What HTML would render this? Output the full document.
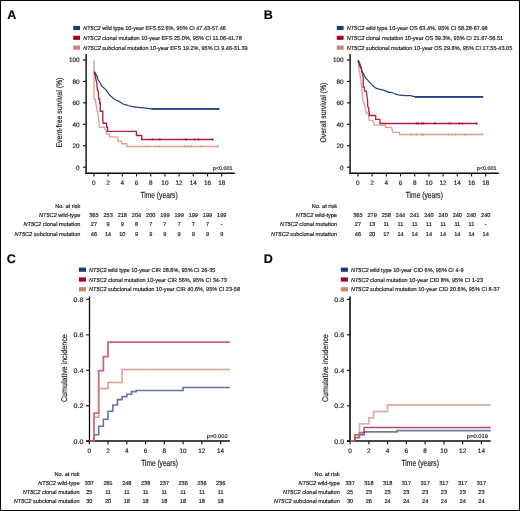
<!DOCTYPE html>
<html><head><meta charset="utf-8"><style>
html,body{margin:0;padding:0;background:#fff;width:520px;height:511px;overflow:hidden}
svg{display:block;will-change:transform}
text{font-family:"Liberation Sans", sans-serif;text-rendering:geometricPrecision;stroke:#1e1e1e;stroke-width:0.18px}
</style></head><body>
<svg width="520" height="511" viewBox="0 0 520 511" font-family='"Liberation Sans", sans-serif' fill="#1e1e1e">
<rect x="0" y="0" width="520" height="511" fill="#fff"/>
<text x="7.20" y="18.80" font-size="12.5" font-weight="bold" fill="#000" >A</text>
<rect x="73.20" y="25.90" width="6.8" height="4.1" fill="#1f3a7a"/>
<text x="83.20" y="29.90" font-size="5.6" textLength="142.60" lengthAdjust="spacingAndGlyphs"><tspan font-style="italic">NT5C2</tspan> wild type 10-year EFS 52.6%, 95% CI 47.43-57.46</text>
<rect x="73.20" y="35.75" width="6.8" height="4.1" fill="#a50028"/>
<text x="83.20" y="39.75" font-size="5.6" textLength="158.60" lengthAdjust="spacingAndGlyphs"><tspan font-style="italic">NT5C2</tspan> clonal mutation 10-year EFS 25.0%, 95% CI 11.06-41.78</text>
<rect x="73.20" y="45.60" width="6.8" height="4.1" fill="#cf8271"/>
<text x="83.20" y="49.60" font-size="5.6" textLength="164.50" lengthAdjust="spacingAndGlyphs"><tspan font-style="italic">NT5C2</tspan> subclonal mutation 10-year EFS 19.2%, 95% CI 9.46-31.39</text>
<line x1="86.10" y1="54.00" x2="86.10" y2="173.80" stroke="#0a0a0a" stroke-width="1.4"/>
<line x1="85.40" y1="173.30" x2="234.80" y2="173.30" stroke="#0a0a0a" stroke-width="1.4"/>
<line x1="83.00" y1="167.20" x2="86.10" y2="167.20" stroke="#0a0a0a" stroke-width="1.1"/>
<text x="79.60" y="169.50" font-size="6.4" text-anchor="end" >0</text>
<line x1="83.00" y1="145.74" x2="86.10" y2="145.74" stroke="#0a0a0a" stroke-width="1.1"/>
<text x="79.60" y="148.04" font-size="6.4" text-anchor="end" >20</text>
<line x1="83.00" y1="124.28" x2="86.10" y2="124.28" stroke="#0a0a0a" stroke-width="1.1"/>
<text x="79.60" y="126.58" font-size="6.4" text-anchor="end" >40</text>
<line x1="83.00" y1="102.82" x2="86.10" y2="102.82" stroke="#0a0a0a" stroke-width="1.1"/>
<text x="79.60" y="105.12" font-size="6.4" text-anchor="end" >60</text>
<line x1="83.00" y1="81.36" x2="86.10" y2="81.36" stroke="#0a0a0a" stroke-width="1.1"/>
<text x="79.60" y="83.66" font-size="6.4" text-anchor="end" >80</text>
<line x1="83.00" y1="59.90" x2="86.10" y2="59.90" stroke="#0a0a0a" stroke-width="1.1"/>
<text x="79.60" y="62.20" font-size="6.4" text-anchor="end" >100</text>
<line x1="93.90" y1="173.20" x2="93.90" y2="176.40" stroke="#0a0a0a" stroke-width="1.1"/>
<text x="93.90" y="185.30" font-size="6.4" text-anchor="middle" >0</text>
<line x1="108.10" y1="173.20" x2="108.10" y2="176.40" stroke="#0a0a0a" stroke-width="1.1"/>
<text x="108.10" y="185.30" font-size="6.4" text-anchor="middle" >2</text>
<line x1="122.30" y1="173.20" x2="122.30" y2="176.40" stroke="#0a0a0a" stroke-width="1.1"/>
<text x="122.30" y="185.30" font-size="6.4" text-anchor="middle" >4</text>
<line x1="136.50" y1="173.20" x2="136.50" y2="176.40" stroke="#0a0a0a" stroke-width="1.1"/>
<text x="136.50" y="185.30" font-size="6.4" text-anchor="middle" >6</text>
<line x1="150.70" y1="173.20" x2="150.70" y2="176.40" stroke="#0a0a0a" stroke-width="1.1"/>
<text x="150.70" y="185.30" font-size="6.4" text-anchor="middle" >8</text>
<line x1="164.90" y1="173.20" x2="164.90" y2="176.40" stroke="#0a0a0a" stroke-width="1.1"/>
<text x="164.90" y="185.30" font-size="6.4" text-anchor="middle" >10</text>
<line x1="179.10" y1="173.20" x2="179.10" y2="176.40" stroke="#0a0a0a" stroke-width="1.1"/>
<text x="179.10" y="185.30" font-size="6.4" text-anchor="middle" >12</text>
<line x1="193.30" y1="173.20" x2="193.30" y2="176.40" stroke="#0a0a0a" stroke-width="1.1"/>
<text x="193.30" y="185.30" font-size="6.4" text-anchor="middle" >14</text>
<line x1="207.50" y1="173.20" x2="207.50" y2="176.40" stroke="#0a0a0a" stroke-width="1.1"/>
<text x="207.50" y="185.30" font-size="6.4" text-anchor="middle" >16</text>
<line x1="221.70" y1="173.20" x2="221.70" y2="176.40" stroke="#0a0a0a" stroke-width="1.1"/>
<text x="221.70" y="185.30" font-size="6.4" text-anchor="middle" >18</text>
<text x="140.40" y="197.70" font-size="8.8" textLength="37.30" lengthAdjust="spacingAndGlyphs" >Time (years)</text>
<text transform="translate(61.60,112.6) rotate(-90)" x="0" y="0" font-size="8.2" text-anchor="middle" textLength="70" lengthAdjust="spacingAndGlyphs">Event-free survival (%)</text>
<text x="212.90" y="170.20" font-size="5.4" textLength="19.60" lengthAdjust="spacingAndGlyphs" >p&lt;0.001</text>
<polyline points="94.00,60.00 94.00,99.20 95.30,99.40 96.20,105.20 97.30,111.50 98.30,117.10 99.00,122.80 99.20,127.30 104.50,127.30 105.20,129.40 106.40,131.20 106.40,134.10 109.60,134.10 109.60,136.80 117.60,136.80 118.20,141.30 121.50,141.30 121.50,143.70 126.80,143.70 126.80,146.50 218.50,146.50" fill="none" stroke="#cf8271" stroke-width="1.35" stroke-opacity="0.75" stroke-linejoin="miter" />
<polyline points="94.30,71.60 95.90,74.40 97.10,76.30 98.00,79.80 99.80,82.30 101.20,84.70 101.80,86.20 103.90,87.90 105.60,89.40 107.70,92.00 109.50,95.00 111.50,96.70 113.90,98.80 115.60,100.00 118.00,100.80 120.30,102.30 122.70,103.80 124.10,104.40 126.20,104.80 128.00,105.50 132.30,106.70 138.10,107.30 143.80,107.80 151.50,108.90 219.20,108.90" fill="none" stroke="#24407f" stroke-width="1.25" stroke-linejoin="miter" />
<line x1="151.50" y1="108.90" x2="219.40" y2="108.90" stroke="#24407f" stroke-width="1.9"/>
<polyline points="94.20,71.80 95.30,75.60 95.90,79.70 96.80,82.60 97.10,87.30 97.60,90.90 98.50,91.50 98.50,98.80 99.70,98.80 99.70,103.50 100.30,103.50 100.30,111.20 102.80,111.20 102.80,119.40 103.20,123.20 106.60,123.20 106.60,127.00 107.50,127.00 107.50,131.30 136.40,131.30 136.40,135.50 141.70,135.40 141.70,139.50 213.30,139.50" fill="none" stroke="#a50028" stroke-width="1.35" stroke-opacity="0.88" stroke-linejoin="miter" />
<line x1="152.40" y1="138.50" x2="152.40" y2="140.30" stroke="#a8103a" stroke-width="1.6"/>
<line x1="159.80" y1="138.50" x2="159.80" y2="140.30" stroke="#a8103a" stroke-width="1.6"/>
<line x1="185.70" y1="138.50" x2="185.70" y2="140.30" stroke="#a8103a" stroke-width="1.6"/>
<line x1="194.50" y1="138.50" x2="194.50" y2="140.30" stroke="#a8103a" stroke-width="1.6"/>
<line x1="198.40" y1="138.50" x2="198.40" y2="140.30" stroke="#a8103a" stroke-width="1.6"/>
<line x1="212.60" y1="138.50" x2="212.60" y2="140.30" stroke="#a8103a" stroke-width="1.6"/>
<line x1="147.10" y1="145.45" x2="147.10" y2="147.25" stroke="#d49486" stroke-width="1.6"/>
<line x1="159.40" y1="145.45" x2="159.40" y2="147.25" stroke="#d49486" stroke-width="1.6"/>
<line x1="184.40" y1="145.45" x2="184.40" y2="147.25" stroke="#d49486" stroke-width="1.6"/>
<line x1="187.70" y1="145.45" x2="187.70" y2="147.25" stroke="#d49486" stroke-width="1.6"/>
<line x1="191.30" y1="145.45" x2="191.30" y2="147.25" stroke="#d49486" stroke-width="1.6"/>
<line x1="201.40" y1="145.45" x2="201.40" y2="147.25" stroke="#d49486" stroke-width="1.6"/>
<line x1="218.10" y1="145.45" x2="218.10" y2="147.25" stroke="#d49486" stroke-width="1.6"/>
<text x="80.40" y="207.70" font-size="5.6" text-anchor="end" >No. at risk</text>
<text x="80.40" y="216.80" font-size="5.6" text-anchor="end"><tspan font-style="italic">NT5C2</tspan> wild-type</text>
<text x="93.90" y="216.80" font-size="5.6" text-anchor="middle" >365</text>
<text x="108.10" y="216.80" font-size="5.6" text-anchor="middle" >253</text>
<text x="122.30" y="216.80" font-size="5.6" text-anchor="middle" >218</text>
<text x="136.50" y="216.80" font-size="5.6" text-anchor="middle" >204</text>
<text x="150.70" y="216.80" font-size="5.6" text-anchor="middle" >200</text>
<text x="164.90" y="216.80" font-size="5.6" text-anchor="middle" >199</text>
<text x="179.10" y="216.80" font-size="5.6" text-anchor="middle" >199</text>
<text x="193.30" y="216.80" font-size="5.6" text-anchor="middle" >199</text>
<text x="207.50" y="216.80" font-size="5.6" text-anchor="middle" >199</text>
<text x="221.70" y="216.80" font-size="5.6" text-anchor="middle" >199</text>
<text x="80.40" y="226.20" font-size="5.6" text-anchor="end"><tspan font-style="italic">NT5C2</tspan> clonal mutation</text>
<text x="93.90" y="226.20" font-size="5.6" text-anchor="middle" >27</text>
<text x="108.10" y="226.20" font-size="5.6" text-anchor="middle" >9</text>
<text x="122.30" y="226.20" font-size="5.6" text-anchor="middle" >9</text>
<text x="136.50" y="226.20" font-size="5.6" text-anchor="middle" >8</text>
<text x="150.70" y="226.20" font-size="5.6" text-anchor="middle" >7</text>
<text x="164.90" y="226.20" font-size="5.6" text-anchor="middle" >7</text>
<text x="179.10" y="226.20" font-size="5.6" text-anchor="middle" >7</text>
<text x="193.30" y="226.20" font-size="5.6" text-anchor="middle" >7</text>
<text x="207.50" y="226.20" font-size="5.6" text-anchor="middle" >7</text>
<text x="221.70" y="226.20" font-size="5.6" text-anchor="middle" >-</text>
<text x="80.40" y="235.70" font-size="5.6" text-anchor="end"><tspan font-style="italic">NT5C2</tspan> subclonal mutation</text>
<text x="93.90" y="235.70" font-size="5.6" text-anchor="middle" >46</text>
<text x="108.10" y="235.70" font-size="5.6" text-anchor="middle" >14</text>
<text x="122.30" y="235.70" font-size="5.6" text-anchor="middle" >10</text>
<text x="136.50" y="235.70" font-size="5.6" text-anchor="middle" >9</text>
<text x="150.70" y="235.70" font-size="5.6" text-anchor="middle" >9</text>
<text x="164.90" y="235.70" font-size="5.6" text-anchor="middle" >9</text>
<text x="179.10" y="235.70" font-size="5.6" text-anchor="middle" >9</text>
<text x="193.30" y="235.70" font-size="5.6" text-anchor="middle" >9</text>
<text x="207.50" y="235.70" font-size="5.6" text-anchor="middle" >9</text>
<text x="221.70" y="235.70" font-size="5.6" text-anchor="middle" >9</text>
<text x="263.80" y="18.80" font-size="12.5" font-weight="bold" fill="#000" >B</text>
<rect x="336.80" y="25.90" width="6.8" height="4.1" fill="#1f3a7a"/>
<text x="346.67" y="29.90" font-size="5.6" textLength="141.03" lengthAdjust="spacingAndGlyphs"><tspan font-style="italic">NT5C2</tspan> wild type 10-year OS 63.4%, 95% CI 58.28-67.98</text>
<rect x="336.80" y="35.75" width="6.8" height="4.1" fill="#a50028"/>
<text x="346.67" y="39.75" font-size="5.6" textLength="156.43" lengthAdjust="spacingAndGlyphs"><tspan font-style="italic">NT5C2</tspan> clonal mutation 10-year OS 39.3%, 95% CI 21.67-56.51</text>
<rect x="336.80" y="45.60" width="6.8" height="4.1" fill="#cf8271"/>
<text x="346.67" y="49.60" font-size="5.6" textLength="165.63" lengthAdjust="spacingAndGlyphs"><tspan font-style="italic">NT5C2</tspan> subclonal mutation 10-year OS 29.8%, 95% CI 17.55-43.05</text>
<line x1="350.10" y1="54.00" x2="350.10" y2="173.80" stroke="#0a0a0a" stroke-width="1.4"/>
<line x1="349.40" y1="173.30" x2="498.80" y2="173.30" stroke="#0a0a0a" stroke-width="1.4"/>
<line x1="347.00" y1="167.20" x2="350.10" y2="167.20" stroke="#0a0a0a" stroke-width="1.1"/>
<text x="343.60" y="169.50" font-size="6.4" text-anchor="end" >0</text>
<line x1="347.00" y1="145.74" x2="350.10" y2="145.74" stroke="#0a0a0a" stroke-width="1.1"/>
<text x="343.60" y="148.04" font-size="6.4" text-anchor="end" >20</text>
<line x1="347.00" y1="124.28" x2="350.10" y2="124.28" stroke="#0a0a0a" stroke-width="1.1"/>
<text x="343.60" y="126.58" font-size="6.4" text-anchor="end" >40</text>
<line x1="347.00" y1="102.82" x2="350.10" y2="102.82" stroke="#0a0a0a" stroke-width="1.1"/>
<text x="343.60" y="105.12" font-size="6.4" text-anchor="end" >60</text>
<line x1="347.00" y1="81.36" x2="350.10" y2="81.36" stroke="#0a0a0a" stroke-width="1.1"/>
<text x="343.60" y="83.66" font-size="6.4" text-anchor="end" >80</text>
<line x1="347.00" y1="59.90" x2="350.10" y2="59.90" stroke="#0a0a0a" stroke-width="1.1"/>
<text x="343.60" y="62.20" font-size="6.4" text-anchor="end" >100</text>
<line x1="357.90" y1="173.20" x2="357.90" y2="176.40" stroke="#0a0a0a" stroke-width="1.1"/>
<text x="357.90" y="185.30" font-size="6.4" text-anchor="middle" >0</text>
<line x1="372.10" y1="173.20" x2="372.10" y2="176.40" stroke="#0a0a0a" stroke-width="1.1"/>
<text x="372.10" y="185.30" font-size="6.4" text-anchor="middle" >2</text>
<line x1="386.30" y1="173.20" x2="386.30" y2="176.40" stroke="#0a0a0a" stroke-width="1.1"/>
<text x="386.30" y="185.30" font-size="6.4" text-anchor="middle" >4</text>
<line x1="400.50" y1="173.20" x2="400.50" y2="176.40" stroke="#0a0a0a" stroke-width="1.1"/>
<text x="400.50" y="185.30" font-size="6.4" text-anchor="middle" >6</text>
<line x1="414.70" y1="173.20" x2="414.70" y2="176.40" stroke="#0a0a0a" stroke-width="1.1"/>
<text x="414.70" y="185.30" font-size="6.4" text-anchor="middle" >8</text>
<line x1="428.90" y1="173.20" x2="428.90" y2="176.40" stroke="#0a0a0a" stroke-width="1.1"/>
<text x="428.90" y="185.30" font-size="6.4" text-anchor="middle" >10</text>
<line x1="443.10" y1="173.20" x2="443.10" y2="176.40" stroke="#0a0a0a" stroke-width="1.1"/>
<text x="443.10" y="185.30" font-size="6.4" text-anchor="middle" >12</text>
<line x1="457.30" y1="173.20" x2="457.30" y2="176.40" stroke="#0a0a0a" stroke-width="1.1"/>
<text x="457.30" y="185.30" font-size="6.4" text-anchor="middle" >14</text>
<line x1="471.50" y1="173.20" x2="471.50" y2="176.40" stroke="#0a0a0a" stroke-width="1.1"/>
<text x="471.50" y="185.30" font-size="6.4" text-anchor="middle" >16</text>
<line x1="485.70" y1="173.20" x2="485.70" y2="176.40" stroke="#0a0a0a" stroke-width="1.1"/>
<text x="485.70" y="185.30" font-size="6.4" text-anchor="middle" >18</text>
<text x="405.80" y="197.70" font-size="8.8" textLength="37.10" lengthAdjust="spacingAndGlyphs" >Time (years)</text>
<text transform="translate(325.60,112.6) rotate(-90)" x="0" y="0" font-size="8.2" text-anchor="middle" textLength="60" lengthAdjust="spacingAndGlyphs">Overall survival (%)</text>
<text x="476.90" y="170.20" font-size="5.4" textLength="19.60" lengthAdjust="spacingAndGlyphs" >p&lt;0.001</text>
<polyline points="358.20,60.30 358.80,68.50 360.00,74.40 360.90,79.70 361.60,87.10 362.20,92.90 362.80,100.00 364.20,104.70 365.70,109.40 366.10,113.20 368.50,113.20 368.80,117.90 369.40,120.40 372.60,120.40 374.40,125.10 385.50,125.10 385.50,127.30 391.50,127.30 393.10,132.30 399.60,132.30 399.60,134.50 482.70,134.50" fill="none" stroke="#cf8271" stroke-width="1.35" stroke-opacity="0.75" stroke-linejoin="miter" />
<polyline points="358.20,60.30 359.40,62.60 360.60,66.20 362.00,70.90 363.80,74.40 365.60,77.90 367.90,80.30 370.00,82.90 372.90,85.80 376.40,88.40 379.30,89.20 383.30,90.10 386.20,91.10 388.50,92.30 390.80,92.30 393.10,93.00 395.70,94.20 398.30,94.90 405.00,95.60 410.80,95.60 415.10,96.90 483.10,96.90" fill="none" stroke="#24407f" stroke-width="1.2" stroke-linejoin="miter" />
<line x1="415.10" y1="96.90" x2="483.20" y2="96.90" stroke="#24407f" stroke-width="1.9"/>
<polyline points="358.20,60.30 359.10,63.80 360.00,66.80 361.20,67.60 361.50,70.30 362.40,73.80 363.20,77.40 363.30,87.10 364.50,87.10 364.50,91.20 366.30,91.20 366.90,95.90 367.50,100.00 367.80,107.00 368.80,107.90 368.80,111.50 369.40,112.00 369.40,115.50 375.70,115.50 375.70,119.30 379.90,119.30 379.90,123.50 477.40,123.50" fill="none" stroke="#a50028" stroke-width="1.3" stroke-opacity="0.88" stroke-linejoin="miter" />
<line x1="416.50" y1="122.55" x2="416.50" y2="124.35" stroke="#a8103a" stroke-width="1.6"/>
<line x1="418.20" y1="122.55" x2="418.20" y2="124.35" stroke="#a8103a" stroke-width="1.6"/>
<line x1="421.50" y1="122.55" x2="421.50" y2="124.35" stroke="#a8103a" stroke-width="1.6"/>
<line x1="423.60" y1="122.55" x2="423.60" y2="124.35" stroke="#a8103a" stroke-width="1.6"/>
<line x1="435.00" y1="122.55" x2="435.00" y2="124.35" stroke="#a8103a" stroke-width="1.6"/>
<line x1="449.60" y1="122.55" x2="449.60" y2="124.35" stroke="#a8103a" stroke-width="1.6"/>
<line x1="459.20" y1="122.55" x2="459.20" y2="124.35" stroke="#a8103a" stroke-width="1.6"/>
<line x1="462.30" y1="122.55" x2="462.30" y2="124.35" stroke="#a8103a" stroke-width="1.6"/>
<line x1="476.50" y1="122.55" x2="476.50" y2="124.35" stroke="#a8103a" stroke-width="1.6"/>
<line x1="411.20" y1="133.65" x2="411.20" y2="135.45" stroke="#d49486" stroke-width="1.6"/>
<line x1="416.40" y1="133.65" x2="416.40" y2="135.45" stroke="#d49486" stroke-width="1.6"/>
<line x1="421.80" y1="133.65" x2="421.80" y2="135.45" stroke="#d49486" stroke-width="1.6"/>
<line x1="423.30" y1="133.65" x2="423.30" y2="135.45" stroke="#d49486" stroke-width="1.6"/>
<line x1="448.50" y1="133.65" x2="448.50" y2="135.45" stroke="#d49486" stroke-width="1.6"/>
<line x1="451.70" y1="133.65" x2="451.70" y2="135.45" stroke="#d49486" stroke-width="1.6"/>
<line x1="455.40" y1="133.65" x2="455.40" y2="135.45" stroke="#d49486" stroke-width="1.6"/>
<line x1="465.50" y1="133.65" x2="465.50" y2="135.45" stroke="#d49486" stroke-width="1.6"/>
<line x1="482.30" y1="133.65" x2="482.30" y2="135.45" stroke="#d49486" stroke-width="1.6"/>
<text x="337.00" y="207.70" font-size="5.6" text-anchor="end" >No. at risk</text>
<text x="337.00" y="216.80" font-size="5.6" text-anchor="end"><tspan font-style="italic">NT5C2</tspan> wild-type</text>
<text x="357.90" y="216.80" font-size="5.6" text-anchor="middle" >365</text>
<text x="372.10" y="216.80" font-size="5.6" text-anchor="middle" >279</text>
<text x="386.30" y="216.80" font-size="5.6" text-anchor="middle" >258</text>
<text x="400.50" y="216.80" font-size="5.6" text-anchor="middle" >244</text>
<text x="414.70" y="216.80" font-size="5.6" text-anchor="middle" >241</text>
<text x="428.90" y="216.80" font-size="5.6" text-anchor="middle" >240</text>
<text x="443.10" y="216.80" font-size="5.6" text-anchor="middle" >240</text>
<text x="457.30" y="216.80" font-size="5.6" text-anchor="middle" >240</text>
<text x="471.50" y="216.80" font-size="5.6" text-anchor="middle" >240</text>
<text x="485.70" y="216.80" font-size="5.6" text-anchor="middle" >240</text>
<text x="337.00" y="226.20" font-size="5.6" text-anchor="end"><tspan font-style="italic">NT5C2</tspan> clonal mutation</text>
<text x="357.90" y="226.20" font-size="5.6" text-anchor="middle" >27</text>
<text x="372.10" y="226.20" font-size="5.6" text-anchor="middle" >13</text>
<text x="386.30" y="226.20" font-size="5.6" text-anchor="middle" >11</text>
<text x="400.50" y="226.20" font-size="5.6" text-anchor="middle" >11</text>
<text x="414.70" y="226.20" font-size="5.6" text-anchor="middle" >11</text>
<text x="428.90" y="226.20" font-size="5.6" text-anchor="middle" >11</text>
<text x="443.10" y="226.20" font-size="5.6" text-anchor="middle" >11</text>
<text x="457.30" y="226.20" font-size="5.6" text-anchor="middle" >11</text>
<text x="471.50" y="226.20" font-size="5.6" text-anchor="middle" >11</text>
<text x="485.70" y="226.20" font-size="5.6" text-anchor="middle" >-</text>
<text x="337.00" y="235.70" font-size="5.6" text-anchor="end"><tspan font-style="italic">NT5C2</tspan> subclonal mutation</text>
<text x="357.90" y="235.70" font-size="5.6" text-anchor="middle" >46</text>
<text x="372.10" y="235.70" font-size="5.6" text-anchor="middle" >20</text>
<text x="386.30" y="235.70" font-size="5.6" text-anchor="middle" >17</text>
<text x="400.50" y="235.70" font-size="5.6" text-anchor="middle" >14</text>
<text x="414.70" y="235.70" font-size="5.6" text-anchor="middle" >14</text>
<text x="428.90" y="235.70" font-size="5.6" text-anchor="middle" >14</text>
<text x="443.10" y="235.70" font-size="5.6" text-anchor="middle" >14</text>
<text x="457.30" y="235.70" font-size="5.6" text-anchor="middle" >14</text>
<text x="471.50" y="235.70" font-size="5.6" text-anchor="middle" >14</text>
<text x="485.70" y="235.70" font-size="5.6" text-anchor="middle" >14</text>
<text x="6.80" y="263.20" font-size="12.5" font-weight="bold" fill="#000" >C</text>
<rect x="78.90" y="267.60" width="7.1" height="4.2" fill="#1f3a7a"/>
<text x="89.00" y="271.70" font-size="5.6" textLength="126.40" lengthAdjust="spacingAndGlyphs"><tspan font-style="italic">NT5C2</tspan> wild type 10-year CIR 28.8%, 95% CI 26-35</text>
<rect x="78.90" y="277.40" width="7.1" height="4.2" fill="#a50028"/>
<text x="89.00" y="281.50" font-size="5.6" textLength="137.90" lengthAdjust="spacingAndGlyphs"><tspan font-style="italic">NT5C2</tspan> clonal mutation 10-year CIR 56%, 95% CI 34-73</text>
<rect x="78.90" y="287.20" width="7.1" height="4.2" fill="#cf8271"/>
<text x="89.00" y="291.30" font-size="5.6" textLength="151.00" lengthAdjust="spacingAndGlyphs"><tspan font-style="italic">NT5C2</tspan> subclonal mutation 10-year CIR 40.6%, 95% CI 23-58</text>
<line x1="89.50" y1="296.50" x2="89.50" y2="441.90" stroke="#0a0a0a" stroke-width="1.3"/>
<line x1="86.20" y1="441.00" x2="229.90" y2="441.00" stroke="#0a0a0a" stroke-width="1.5"/>
<line x1="86.20" y1="441.30" x2="89.30" y2="441.30" stroke="#0a0a0a" stroke-width="1.1"/>
<text x="83.40" y="443.65" font-size="6.6" text-anchor="end" textLength="9.90" lengthAdjust="spacingAndGlyphs" >0.0</text>
<line x1="86.20" y1="405.82" x2="89.30" y2="405.82" stroke="#0a0a0a" stroke-width="1.1"/>
<text x="83.40" y="408.17" font-size="6.6" text-anchor="end" textLength="9.90" lengthAdjust="spacingAndGlyphs" >0.2</text>
<line x1="86.20" y1="370.34" x2="89.30" y2="370.34" stroke="#0a0a0a" stroke-width="1.1"/>
<text x="83.40" y="372.69" font-size="6.6" text-anchor="end" textLength="9.90" lengthAdjust="spacingAndGlyphs" >0.4</text>
<line x1="86.20" y1="334.86" x2="89.30" y2="334.86" stroke="#0a0a0a" stroke-width="1.1"/>
<text x="83.40" y="337.21" font-size="6.6" text-anchor="end" textLength="9.90" lengthAdjust="spacingAndGlyphs" >0.6</text>
<line x1="86.20" y1="299.38" x2="89.30" y2="299.38" stroke="#0a0a0a" stroke-width="1.1"/>
<text x="83.40" y="301.73" font-size="6.6" text-anchor="end" textLength="9.90" lengthAdjust="spacingAndGlyphs" >0.8</text>
<line x1="89.30" y1="441.20" x2="89.30" y2="444.20" stroke="#0a0a0a" stroke-width="1.1"/>
<text x="89.30" y="452.90" font-size="6.4" text-anchor="middle" >0</text>
<line x1="108.06" y1="441.20" x2="108.06" y2="444.20" stroke="#0a0a0a" stroke-width="1.1"/>
<text x="108.06" y="452.90" font-size="6.4" text-anchor="middle" >2</text>
<line x1="126.82" y1="441.20" x2="126.82" y2="444.20" stroke="#0a0a0a" stroke-width="1.1"/>
<text x="126.82" y="452.90" font-size="6.4" text-anchor="middle" >4</text>
<line x1="145.58" y1="441.20" x2="145.58" y2="444.20" stroke="#0a0a0a" stroke-width="1.1"/>
<text x="145.58" y="452.90" font-size="6.4" text-anchor="middle" >6</text>
<line x1="164.34" y1="441.20" x2="164.34" y2="444.20" stroke="#0a0a0a" stroke-width="1.1"/>
<text x="164.34" y="452.90" font-size="6.4" text-anchor="middle" >8</text>
<line x1="183.10" y1="441.20" x2="183.10" y2="444.20" stroke="#0a0a0a" stroke-width="1.1"/>
<text x="183.10" y="452.90" font-size="6.4" text-anchor="middle" >10</text>
<line x1="201.86" y1="441.20" x2="201.86" y2="444.20" stroke="#0a0a0a" stroke-width="1.1"/>
<text x="201.86" y="452.90" font-size="6.4" text-anchor="middle" >12</text>
<line x1="220.62" y1="441.20" x2="220.62" y2="444.20" stroke="#0a0a0a" stroke-width="1.1"/>
<text x="220.62" y="452.90" font-size="6.4" text-anchor="middle" >14</text>
<text x="141.20" y="465.60" font-size="8.8" textLength="36.70" lengthAdjust="spacingAndGlyphs" >Time (years)</text>
<text transform="translate(67.20,368.2) rotate(-90)" x="0" y="0" font-size="8.2" text-anchor="middle" textLength="67.8" lengthAdjust="spacingAndGlyphs">Cumulative incidence</text>
<text x="206.80" y="437.80" font-size="5.4" textLength="20.90" lengthAdjust="spacingAndGlyphs" >p=0.002</text>
<polyline points="89.30,441.00 93.99,441.00 93.99,434.73 98.68,434.73 98.68,426.22 103.37,426.22 103.37,419.30 108.06,419.30 108.06,411.31 112.75,411.31 112.75,404.93 117.44,404.93 117.44,399.61 122.13,399.61 122.13,396.59 126.82,396.59 126.82,394.28 131.51,394.28 131.51,391.62 136.20,391.62 136.20,390.51 183.10,390.51 183.10,387.51 230.00,387.51" fill="none" stroke="#1f3a7a" stroke-width="1.6" stroke-opacity="0.7" stroke-linejoin="miter" />
<polyline points="89.30,441.00 93.99,441.00 93.99,413.09 98.68,413.09 98.68,370.69 103.37,370.69 103.37,356.50 108.06,356.50 108.06,342.00 230.00,342.00" fill="none" stroke="#a50028" stroke-width="1.75" stroke-opacity="0.6" stroke-linejoin="miter" />
<polyline points="89.30,441.00 93.99,441.00 93.99,417.26 98.68,417.26 98.68,388.43 108.06,388.43 108.06,382.49 122.13,382.49 122.13,369.50 230.00,369.50" fill="none" stroke="#cf8271" stroke-width="1.6" stroke-opacity="0.77" stroke-linejoin="miter" />
<text x="79.60" y="476.00" font-size="5.6" text-anchor="end" >No. at risk</text>
<text x="79.60" y="484.90" font-size="5.6" text-anchor="end"><tspan font-style="italic">NT5C2</tspan> wild-type</text>
<text x="89.30" y="484.90" font-size="5.6" text-anchor="middle" >337</text>
<text x="108.06" y="484.90" font-size="5.6" text-anchor="middle" >281</text>
<text x="126.82" y="484.90" font-size="5.6" text-anchor="middle" >248</text>
<text x="145.58" y="484.90" font-size="5.6" text-anchor="middle" >238</text>
<text x="164.34" y="484.90" font-size="5.6" text-anchor="middle" >237</text>
<text x="183.10" y="484.90" font-size="5.6" text-anchor="middle" >236</text>
<text x="201.86" y="484.90" font-size="5.6" text-anchor="middle" >236</text>
<text x="220.62" y="484.90" font-size="5.6" text-anchor="middle" >236</text>
<text x="79.60" y="494.10" font-size="5.6" text-anchor="end"><tspan font-style="italic">NT5C2</tspan> clonal mutation</text>
<text x="89.30" y="494.10" font-size="5.6" text-anchor="middle" >25</text>
<text x="108.06" y="494.10" font-size="5.6" text-anchor="middle" >11</text>
<text x="126.82" y="494.10" font-size="5.6" text-anchor="middle" >11</text>
<text x="145.58" y="494.10" font-size="5.6" text-anchor="middle" >11</text>
<text x="164.34" y="494.10" font-size="5.6" text-anchor="middle" >11</text>
<text x="183.10" y="494.10" font-size="5.6" text-anchor="middle" >11</text>
<text x="201.86" y="494.10" font-size="5.6" text-anchor="middle" >11</text>
<text x="220.62" y="494.10" font-size="5.6" text-anchor="middle" >11</text>
<text x="79.60" y="503.30" font-size="5.6" text-anchor="end"><tspan font-style="italic">NT5C2</tspan> subclonal mutation</text>
<text x="89.30" y="503.30" font-size="5.6" text-anchor="middle" >30</text>
<text x="108.06" y="503.30" font-size="5.6" text-anchor="middle" >20</text>
<text x="126.82" y="503.30" font-size="5.6" text-anchor="middle" >18</text>
<text x="145.58" y="503.30" font-size="5.6" text-anchor="middle" >18</text>
<text x="164.34" y="503.30" font-size="5.6" text-anchor="middle" >18</text>
<text x="183.10" y="503.30" font-size="5.6" text-anchor="middle" >18</text>
<text x="201.86" y="503.30" font-size="5.6" text-anchor="middle" >18</text>
<text x="220.62" y="503.30" font-size="5.6" text-anchor="middle" >18</text>
<text x="263.80" y="263.20" font-size="12.5" font-weight="bold" fill="#000" >D</text>
<rect x="340.80" y="267.60" width="7.1" height="4.2" fill="#1f3a7a"/>
<text x="350.90" y="271.70" font-size="5.6" textLength="112.60" lengthAdjust="spacingAndGlyphs"><tspan font-style="italic">NT5C2</tspan> wild type 10-year CID 6%, 95% CI 4-9</text>
<rect x="340.80" y="277.40" width="7.1" height="4.2" fill="#a50028"/>
<text x="350.90" y="281.50" font-size="5.6" textLength="132.10" lengthAdjust="spacingAndGlyphs"><tspan font-style="italic">NT5C2</tspan> clonal mutation 10-year CID 8%, 95% CI 1-23</text>
<rect x="340.80" y="287.20" width="7.1" height="4.2" fill="#cf8271"/>
<text x="350.90" y="291.30" font-size="5.6" textLength="148.90" lengthAdjust="spacingAndGlyphs"><tspan font-style="italic">NT5C2</tspan> subclonal mutation 10-year CID 20.6%, 95% CI 8-37</text>
<line x1="350.00" y1="296.50" x2="350.00" y2="441.90" stroke="#0a0a0a" stroke-width="1.6"/>
<line x1="347.00" y1="441.00" x2="490.70" y2="441.00" stroke="#0a0a0a" stroke-width="1.5"/>
<line x1="347.00" y1="441.30" x2="350.10" y2="441.30" stroke="#0a0a0a" stroke-width="1.1"/>
<text x="344.20" y="443.65" font-size="6.6" text-anchor="end" textLength="9.90" lengthAdjust="spacingAndGlyphs" >0.0</text>
<line x1="347.00" y1="405.82" x2="350.10" y2="405.82" stroke="#0a0a0a" stroke-width="1.1"/>
<text x="344.20" y="408.17" font-size="6.6" text-anchor="end" textLength="9.90" lengthAdjust="spacingAndGlyphs" >0.2</text>
<line x1="347.00" y1="370.34" x2="350.10" y2="370.34" stroke="#0a0a0a" stroke-width="1.1"/>
<text x="344.20" y="372.69" font-size="6.6" text-anchor="end" textLength="9.90" lengthAdjust="spacingAndGlyphs" >0.4</text>
<line x1="347.00" y1="334.86" x2="350.10" y2="334.86" stroke="#0a0a0a" stroke-width="1.1"/>
<text x="344.20" y="337.21" font-size="6.6" text-anchor="end" textLength="9.90" lengthAdjust="spacingAndGlyphs" >0.6</text>
<line x1="347.00" y1="299.38" x2="350.10" y2="299.38" stroke="#0a0a0a" stroke-width="1.1"/>
<text x="344.20" y="301.73" font-size="6.6" text-anchor="end" textLength="9.90" lengthAdjust="spacingAndGlyphs" >0.8</text>
<line x1="350.10" y1="441.20" x2="350.10" y2="444.20" stroke="#0a0a0a" stroke-width="1.1"/>
<text x="350.10" y="452.90" font-size="6.4" text-anchor="middle" >0</text>
<line x1="368.86" y1="441.20" x2="368.86" y2="444.20" stroke="#0a0a0a" stroke-width="1.1"/>
<text x="368.86" y="452.90" font-size="6.4" text-anchor="middle" >2</text>
<line x1="387.62" y1="441.20" x2="387.62" y2="444.20" stroke="#0a0a0a" stroke-width="1.1"/>
<text x="387.62" y="452.90" font-size="6.4" text-anchor="middle" >4</text>
<line x1="406.38" y1="441.20" x2="406.38" y2="444.20" stroke="#0a0a0a" stroke-width="1.1"/>
<text x="406.38" y="452.90" font-size="6.4" text-anchor="middle" >6</text>
<line x1="425.14" y1="441.20" x2="425.14" y2="444.20" stroke="#0a0a0a" stroke-width="1.1"/>
<text x="425.14" y="452.90" font-size="6.4" text-anchor="middle" >8</text>
<line x1="443.90" y1="441.20" x2="443.90" y2="444.20" stroke="#0a0a0a" stroke-width="1.1"/>
<text x="443.90" y="452.90" font-size="6.4" text-anchor="middle" >10</text>
<line x1="462.66" y1="441.20" x2="462.66" y2="444.20" stroke="#0a0a0a" stroke-width="1.1"/>
<text x="462.66" y="452.90" font-size="6.4" text-anchor="middle" >12</text>
<line x1="481.42" y1="441.20" x2="481.42" y2="444.20" stroke="#0a0a0a" stroke-width="1.1"/>
<text x="481.42" y="452.90" font-size="6.4" text-anchor="middle" >14</text>
<text x="401.40" y="465.60" font-size="8.8" textLength="37.60" lengthAdjust="spacingAndGlyphs" >Time (years)</text>
<text transform="translate(327.80,368.2) rotate(-90)" x="0" y="0" font-size="8.2" text-anchor="middle" textLength="67.8" lengthAdjust="spacingAndGlyphs">Cumulative incidence</text>
<text x="466.80" y="437.80" font-size="5.4" textLength="21.20" lengthAdjust="spacingAndGlyphs" >p=0.019</text>
<polyline points="350.10,441.00 354.79,441.00 354.79,437.57 359.48,437.57 359.48,432.60 364.17,432.60 364.17,431.89 397.00,431.89 397.00,430.70 490.80,430.70" fill="none" stroke="#1f3a7a" stroke-width="1.7" stroke-opacity="0.66" stroke-linejoin="miter" />
<polyline points="350.10,441.00 354.79,441.00 354.79,434.73 364.17,434.73 364.17,427.51 490.80,427.51" fill="none" stroke="#a50028" stroke-width="1.45" stroke-opacity="0.72" stroke-linejoin="miter" />
<polyline points="350.10,441.00 354.79,441.00 354.79,434.73 359.48,434.73 359.48,423.91 368.86,423.91 368.86,417.88 373.55,417.88 373.55,411.49 387.62,411.49 387.62,405.00 490.80,405.00" fill="none" stroke="#cf8271" stroke-width="1.8" stroke-opacity="0.62" stroke-linejoin="miter" />
<text x="339.80" y="476.00" font-size="5.6" text-anchor="end" >No. at risk</text>
<text x="339.80" y="484.90" font-size="5.6" text-anchor="end"><tspan font-style="italic">NT5C2</tspan> wild-type</text>
<text x="350.10" y="484.90" font-size="5.6" text-anchor="middle" >337</text>
<text x="368.86" y="484.90" font-size="5.6" text-anchor="middle" >318</text>
<text x="387.62" y="484.90" font-size="5.6" text-anchor="middle" >318</text>
<text x="406.38" y="484.90" font-size="5.6" text-anchor="middle" >317</text>
<text x="425.14" y="484.90" font-size="5.6" text-anchor="middle" >317</text>
<text x="443.90" y="484.90" font-size="5.6" text-anchor="middle" >317</text>
<text x="462.66" y="484.90" font-size="5.6" text-anchor="middle" >317</text>
<text x="481.42" y="484.90" font-size="5.6" text-anchor="middle" >317</text>
<text x="339.80" y="494.10" font-size="5.6" text-anchor="end"><tspan font-style="italic">NT5C2</tspan> clonal mutation</text>
<text x="350.10" y="494.10" font-size="5.6" text-anchor="middle" >25</text>
<text x="368.86" y="494.10" font-size="5.6" text-anchor="middle" >23</text>
<text x="387.62" y="494.10" font-size="5.6" text-anchor="middle" >23</text>
<text x="406.38" y="494.10" font-size="5.6" text-anchor="middle" >23</text>
<text x="425.14" y="494.10" font-size="5.6" text-anchor="middle" >23</text>
<text x="443.90" y="494.10" font-size="5.6" text-anchor="middle" >23</text>
<text x="462.66" y="494.10" font-size="5.6" text-anchor="middle" >23</text>
<text x="481.42" y="494.10" font-size="5.6" text-anchor="middle" >23</text>
<text x="339.80" y="503.30" font-size="5.6" text-anchor="end"><tspan font-style="italic">NT5C2</tspan> subclonal mutation</text>
<text x="350.10" y="503.30" font-size="5.6" text-anchor="middle" >30</text>
<text x="368.86" y="503.30" font-size="5.6" text-anchor="middle" >26</text>
<text x="387.62" y="503.30" font-size="5.6" text-anchor="middle" >24</text>
<text x="406.38" y="503.30" font-size="5.6" text-anchor="middle" >24</text>
<text x="425.14" y="503.30" font-size="5.6" text-anchor="middle" >24</text>
<text x="443.90" y="503.30" font-size="5.6" text-anchor="middle" >24</text>
<text x="462.66" y="503.30" font-size="5.6" text-anchor="middle" >24</text>
<text x="481.42" y="503.30" font-size="5.6" text-anchor="middle" >24</text>
<rect x="0.5" y="0.5" width="519" height="510" fill="none" stroke="#000" stroke-width="1"/>
</svg>
</body></html>
